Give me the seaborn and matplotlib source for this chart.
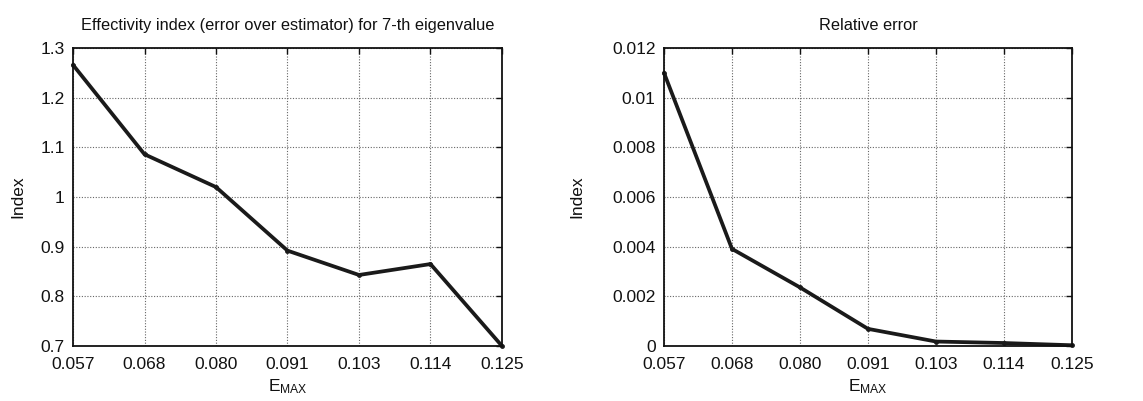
import numpy as np
import pandas as pd
import matplotlib
matplotlib.use("Agg")
import matplotlib.pyplot as plt
import seaborn as sns
from matplotlib.ticker import FuncFormatter

# E_MAX values (x axis, drawn equally spaced like in the original)
emax = [0.057, 0.068, 0.080, 0.091, 0.103, 0.114, 0.125]
# effectivity index for 7-th eigenvalue
eff_index = [1.266, 1.086, 1.020, 0.892, 0.843, 0.865, 0.700]
# relative error
rel_error = [0.0110, 0.00391, 0.00236, 0.00069, 0.00018, 0.00012, 0.00003]

left_yticks = [0.7, 0.8, 0.9, 1.0, 1.1, 1.2, 1.3]
right_yticks = [0, 0.002, 0.004, 0.006, 0.008, 0.010, 0.012]

sns.set_style("white")
plt.rcParams['font.family'] = ['Liberation Sans', 'DejaVu Sans']

df = pd.DataFrame({"pos": range(len(emax)), "eff": eff_index, "rel": rel_error})
xlabels = ["%.3f" % v for v in emax]

fig = plt.figure(figsize=(11.43, 4.01), dpi=100)
# axes positions in figure fractions (from the reference layout)
ax1 = fig.add_axes([73 / 1143, 1 - 346 / 401, 429 / 1143, 298 / 401])
ax2 = fig.add_axes([664 / 1143, 1 - 346 / 401, 408 / 1143, 298 / 401])

panels = [
    (ax1, "eff", "Effectivity index (error over estimator) for 7-th eigenvalue", left_yticks),
    (ax2, "rel", "Relative error", right_yticks),
]

for ax, col, title, yt in panels:
    sns.lineplot(data=df, x="pos", y=col, ax=ax, color="#1a1a1a", linewidth=2.7,
                 marker="o", markersize=3.5, markeredgewidth=0, clip_on=False)
    ax.set_xlim(df["pos"].min(), df["pos"].max())
    ax.set_ylim(yt[0], yt[-1])
    ax.set_xticks(df["pos"])
    ax.set_xticklabels(xlabels)
    ax.set_yticks(yt)
    ax.yaxis.set_major_formatter(FuncFormatter(lambda v, p: "%g" % round(v, 6)))
    ax.grid(True, color="#666666", linestyle=(0, (1, 1.5)), linewidth=0.8)
    ax.tick_params(direction="in", top=True, right=True, length=4, width=1,
                   labelsize=12.5, colors="#111111")
    ax.tick_params(axis="x", pad=8)
    ax.tick_params(axis="y", pad=6)
    for s in ax.spines.values():
        s.set_color("#111111")
        s.set_linewidth(1.3)
    ax.set_title(title, fontsize=11.8, pad=13, color="#111111")
    ax.set_ylabel("Index", fontsize=12.5, color="#111111")
    ax.set_xlabel(r"$\mathregular{E_{MAX}}$", fontsize=12.5, color="#111111", labelpad=4)

ax1.yaxis.set_label_coords(-0.112, 0.5)
ax2.yaxis.set_label_coords(-0.194, 0.5)

fig.savefig("out.png", dpi=100)
